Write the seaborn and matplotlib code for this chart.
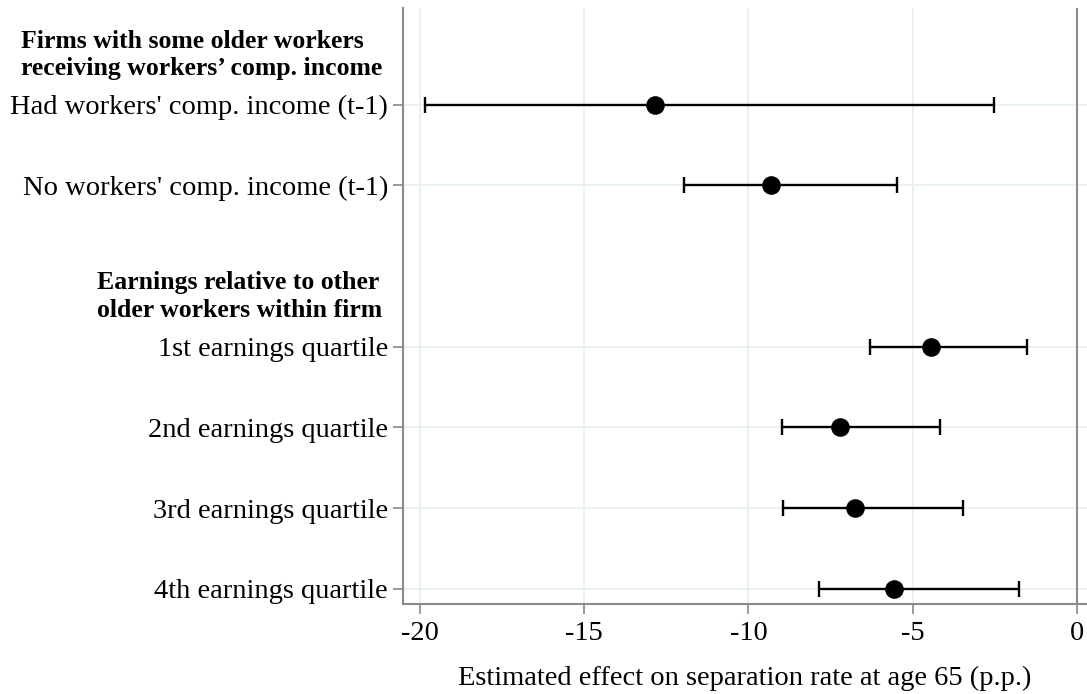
import matplotlib
matplotlib.use('Agg')
import matplotlib.pyplot as plt
import matplotlib.transforms as mtransforms
import seaborn as sns
import pandas as pd

# ---- data ----
group_titles = ["Firms with some older workers\nreceiving workers\u2019 comp. income",
                "Earnings relative to other\nolder workers within firm"]
group1_labels = ["Had workers' comp. income (t-1)", "No workers' comp. income (t-1)"]
group1_est = [-12.85, -9.32]
group1_lo = [-19.84, -11.97]
group1_hi = [-2.51, -5.48]
group2_labels = ["1st earnings quartile", "2nd earnings quartile",
                 "3rd earnings quartile", "4th earnings quartile"]
group2_est = [-4.44, -7.22, -6.75, -5.57]
group2_lo = [-6.29, -8.97, -8.95, -7.86]
group2_hi = [-1.51, -4.18, -3.46, -1.77]
x_ticks = [-20, -15, -10, -5, 0]
x_label = "Estimated effect on separation rate at age 65 (p.p.)"

# ---- build table (groups stacked with one empty slot between) ----
rows = []
pos = 0
group_start = []
for labels, est, lo, hi in [(group1_labels, group1_est, group1_lo, group1_hi),
                            (group2_labels, group2_est, group2_lo, group2_hi)]:
    group_start.append(pos)
    for l, e, a, b in zip(labels, est, lo, hi):
        rows.append(dict(label=l, est=e, lo=a, hi=b, pos=pos))
        pos += 1
    pos += 1
df = pd.DataFrame(rows)

sns.set_theme(style='white')
plt.rcParams['font.family'] = ['Liberation Serif', 'DejaVu Serif']
plt.rcParams['axes.unicode_minus'] = False

W, H = 1087, 694
fig = plt.figure(figsize=(W / 100, H / 100), dpi=100)
ax_l, ax_r, ax_t, ax_b = 403.3, 1087, 8, 604
ax = fig.add_axes([ax_l / W, 1 - ax_b / H, (ax_r - ax_l) / W, (ax_b - ax_t) / H])

grey = '#8a8a8a'
ax.set_axisbelow(True)
ax.grid(True, color='#e6eff1', lw=1.2)
ax.axvline(0, color=grey, lw=1.5, zorder=1)

ax.errorbar(df['est'], df['pos'], xerr=[df['est'] - df['lo'], df['hi'] - df['est']],
            fmt='none', ecolor='black', elinewidth=1.7, capsize=5.5, capthick=1.7, zorder=2)
sns.scatterplot(data=df, x='est', y='pos', color='black', s=180, linewidth=0,
                ax=ax, zorder=3, legend=False)

ax.set_xlim(-20.51, 0.31)
ax.set_ylim(6.19, -1.2)
ax.set_xticks(x_ticks)
ax.set_xticklabels([str(t) for t in x_ticks])
ax.set_yticks(df['pos'])
ax.set_yticklabels(df['label'])

for s in ['top', 'right']:
    ax.spines[s].set_visible(False)
for s in ['left', 'bottom']:
    ax.spines[s].set_color(grey)
    ax.spines[s].set_linewidth(1.5)

ax.tick_params(axis='both', length=7.5, width=1.2, color=grey, labelsize=20.5,
               labelcolor='black', bottom=True, left=True)
ax.tick_params(axis='y', pad=3.5)
ax.tick_params(axis='x', pad=5)
ax.set_xlabel(x_label, fontsize=20.5, color='black', labelpad=14)
ax.set_ylabel('')

trans = mtransforms.blended_transform_factory(ax.transAxes, ax.transData)
for title, start in zip(group_titles, group_start):
    ax.text(-0.031, start - 0.62, title, transform=trans, ha='right', va='center',
            multialignment='left', fontsize=18.5, fontweight='bold', color='black',
            linespacing=1.25)

fig.savefig('out.png', dpi=100)
